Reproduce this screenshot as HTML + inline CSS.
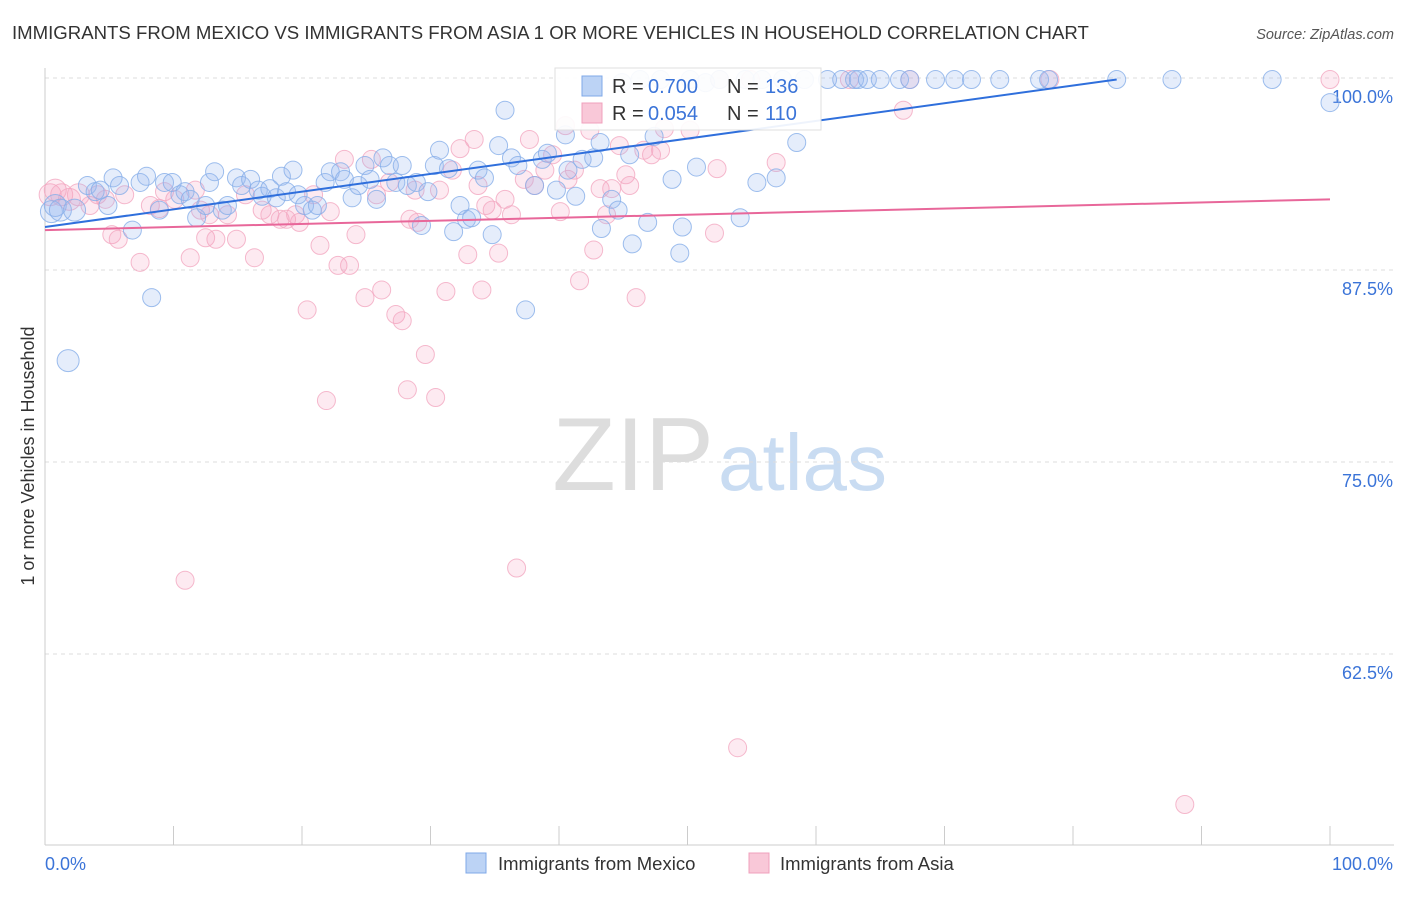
<!DOCTYPE html>
<html><head><meta charset="utf-8"><style>
body{margin:0;background:#fff;font-family:"Liberation Sans",sans-serif;}
svg text{font-family:"Liberation Sans",sans-serif;}
</style></head><body>
<svg width="1406" height="892">
<text x="12" y="39" font-size="18.6" fill="#333">IMMIGRANTS FROM MEXICO VS IMMIGRANTS FROM ASIA 1 OR MORE VEHICLES IN HOUSEHOLD CORRELATION CHART</text>
<text x="1394" y="39" font-size="14.5" fill="#555" font-style="italic" text-anchor="end">Source: ZipAtlas.com</text>
<text x="714" y="490" font-size="104" fill="#ddd" font-family="Liberation Serif" text-anchor="end">ZIP</text>
<text x="718" y="490" font-size="80" fill="#c9dcf2">atlas</text>
<text transform="translate(34,456) rotate(-90)" font-size="18" fill="#333" text-anchor="middle">1 or more Vehicles in Household</text>
<g id="grid"></g><g id="axes"></g><g id="pts"></g><g id="trend"></g>
<g>
<rect x="555" y="68" width="266" height="62" fill="#fff" stroke="#ddd" opacity="0.92"/>
<rect x="582" y="76" width="20" height="20" fill="#bcd3f5" stroke="#7fa8e8"/>
<rect x="582" y="103" width="20" height="20" fill="#f9c8d8" stroke="#f0a0bc"/>
<text y="93" font-size="20" fill="#333"><tspan x="612">R =</tspan><tspan x="648" fill="#3b74d8">0.700</tspan><tspan x="727">N =</tspan><tspan x="765" fill="#3b74d8">136</tspan></text>
<text y="120" font-size="20" fill="#333"><tspan x="612">R =</tspan><tspan x="648" fill="#3b74d8">0.054</tspan><tspan x="727">N =</tspan><tspan x="765" fill="#3b74d8">110</tspan></text>
</g>
<g>
<rect x="466" y="853" width="20" height="20" fill="#bcd3f5" stroke="#7fa8e8"/>
<text x="498" y="870" font-size="18.5" fill="#333">Immigrants from Mexico</text>
<rect x="749" y="853" width="20" height="20" fill="#f9c8d8" stroke="#f0a0bc"/>
<text x="780" y="870" font-size="18.5" fill="#333">Immigrants from Asia</text>
</g>
</svg>
<script>
const yTicks=[100,87.5,75,62.5];
const yTickLabels=["100.0%","87.5%","75.0%","62.5%"];
const xEndLabels=["0.0%","100.0%"];
const mexX=[0.5,0.8,1.2,1.8,2.3,3.3,3.9,4.3,4.9,5.3,5.8,6.8,7.4,7.9,8.3,8.9,9.3,9.9,10.5,10.9,11.3,11.8,12.5,12.8,13.2,13.8,14.2,14.9,15.3,16.0,16.6,16.9,17.5,18.0,18.4,18.8,19.3,19.7,20.2,20.8,21.2,21.8,22.2,23.0,23.3,23.9,24.4,24.9,25.3,25.8,26.3,26.8,27.3,27.8,28.2,28.9,29.3,29.8,30.3,30.7,31.4,31.8,32.3,32.8,33.2,33.7,34.2,34.8,35.3,35.8,36.3,36.8,37.4,38.1,38.7,39.1,39.8,40.5,40.7,41.3,41.8,42.7,43.2,43.3,44.1,44.6,44.9,45.5,45.7,46.3,46.9,47.4,47.9,48.8,49.6,49.4,50.2,50.7,51.4,52.5,54.1,54.5,55.4,55.8,56.9,57.4,58.5,59.1,60.9,62.0,63.0,63.3,64.0,65.0,66.5,67.3,69.3,70.8,72.1,74.3,77.4,78.1,83.4,87.7,95.5,100];
const mexY=[91.3,91.7,91.4,81.6,91.4,93.0,92.6,92.7,91.7,93.5,93.0,90.1,93.2,93.6,85.7,91.4,93.2,93.2,92.4,92.6,92.1,90.9,91.7,93.2,93.9,91.4,91.7,93.5,93.0,93.4,92.7,92.3,92.8,92.2,93.6,92.6,94.0,92.4,91.7,91.4,91.7,93.2,93.9,93.9,93.4,92.2,93.0,94.3,93.4,92.1,94.8,94.3,93.2,94.3,93.0,93.2,90.4,92.6,94.3,95.3,94.1,90.0,91.7,90.8,90.9,94.0,93.5,89.8,95.6,97.9,94.8,94.3,84.9,93.0,94.7,95.1,92.7,96.3,94.0,92.3,94.7,94.8,95.8,90.2,92.1,91.4,99.7,95.0,89.2,99.9,90.6,96.2,99.9,93.4,90.3,88.6,99.9,94.2,99.7,99.9,90.9,99.9,93.2,99.9,93.5,99.9,95.8,99.9,99.9,99.9,99.9,99.9,99.9,99.9,99.9,99.9,99.9,99.9,99.9,99.9,99.9,99.9,99.9,99.9,99.9,98.4];
const asiaX=[0.4,0.8,1.3,1.9,2.6,3.5,4.1,4.7,5.2,5.7,6.2,7.4,8.2,8.9,9.3,10.1,10.9,11.3,11.7,12.1,12.5,12.8,13.3,14.2,14.9,15.6,16.3,16.9,17.5,18.3,18.8,19.5,19.8,20.4,20.9,21.4,21.9,22.2,22.8,23.3,23.7,24.2,24.9,25.4,25.8,26.2,26.8,27.3,27.8,28.4,28.8,29.0,29.6,28.2,30.4,30.7,31.2,31.7,32.3,32.9,33.4,33.7,34.0,34.3,34.8,35.3,35.8,36.3,36.7,37.3,37.7,38.1,38.9,39.5,40.1,40.7,41.2,41.6,42.4,42.7,43.2,43.7,44.1,44.7,45.2,45.5,46.0,46.6,47.2,47.9,48.2,50.2,52.1,52.3,53.9,56.9,66.8,88.7,100,78.2,67.3,62.6,54.9,52.5,40.5];
const asiaY=[92.4,92.7,92.4,92.1,92.4,91.7,92.4,92.1,89.8,89.5,92.4,88.0,91.7,91.5,92.6,92.1,67.3,88.3,92.7,91.4,89.6,91.1,89.5,91.1,89.5,92.4,88.3,91.4,91.1,90.8,90.8,91.1,90.6,84.9,92.4,89.1,79.0,91.3,87.8,94.7,87.8,89.8,85.7,94.7,92.4,86.2,93.2,84.6,84.2,90.8,92.7,90.6,82.0,79.7,79.2,92.7,86.1,94.0,95.4,88.5,96.0,93.0,86.2,91.7,91.4,88.6,92.1,91.1,68.1,93.4,96.0,93.0,94.0,95.0,91.3,93.4,94.0,86.8,96.6,88.8,92.8,91.1,92.8,95.6,93.7,93.0,85.7,95.3,95.0,95.3,96.7,96.6,89.9,94.1,56.4,94.5,97.9,52.7,99.9,99.9,99.9,99.9,99.9,99.9,96.9];
const mexTrendX=[0,83.4];
const mexTrendY=[90.3,99.9];
const asiaTrendX=[0,100];
const asiaTrendY=[90.1,92.1];

const NS="http://www.w3.org/2000/svg";
const X=v=>45+v*12.85;
const Y=v=>78+(100-v)*15.36;
function mk(t,a,p){const e=document.createElementNS(NS,t);for(const k in a)e.setAttribute(k,a[k]);p.appendChild(e);return e;}
const grid=document.getElementById('grid'),axes=document.getElementById('axes'),pts=document.getElementById('pts'),trend=document.getElementById('trend');
yTicks.forEach((t,i)=>{
 const l=mk('line',{x1:45,x2:1394,y1:Y(t),y2:Y(t),stroke:'#ddd','stroke-dasharray':'4,4'},grid);
 
 
 const tx=mk('text',{x:1393,y:Y(t)+25,'font-size':18,fill:'#3b74d8','text-anchor':'end'},grid);
 tx.textContent=yTickLabels[i];
 
 
});
let a=mk('line',{x1:45,x2:45,y1:68,y2:845,stroke:'#ccc'},axes);


a=mk('line',{x1:45,x2:1394,y1:845,y2:845,stroke:'#ccc'},axes);


for(let i=0;i<=10;i++){
 const t=mk('line',{x1:X(i*10),x2:X(i*10),y1:826,y2:845,stroke:'#ccc'},axes);
 
 
}
[[0,'start',45],[100,'end',1393]].forEach((d,i)=>{
 const t=mk('text',{x:d[2],y:870,'font-size':18,fill:'#3b74d8','text-anchor':d[1]},axes);
 t.textContent=xEndLabels[i];
 
 
});
function dots(xs,ys,fill,stroke,name){
 xs.forEach((x,i)=>{
  const r=x<3?11:9;
  const c=mk('circle',{cx:X(x),cy:Y(ys[i]),r:r,fill:fill,stroke:stroke,'stroke-width':1,'stroke-opacity':0.8},pts);
  
  
 });
}
dots(asiaX,asiaY,'rgba(244,160,190,0.22)','#f2a7c1','asia-point');
dots(mexX,mexY,'rgba(150,185,240,0.25)','#86aee8','mexico-point');
let tl=mk('line',{x1:X(mexTrendX[0]),y1:Y(mexTrendY[0]),x2:X(mexTrendX[1]),y2:Y(mexTrendY[1]),stroke:'#2f6fdc','stroke-width':2},trend);


tl=mk('line',{x1:X(asiaTrendX[0]),y1:Y(asiaTrendY[0]),x2:X(asiaTrendX[1]),y2:Y(asiaTrendY[1]),stroke:'#e8679a','stroke-width':2},trend);


</script>
</body></html>
